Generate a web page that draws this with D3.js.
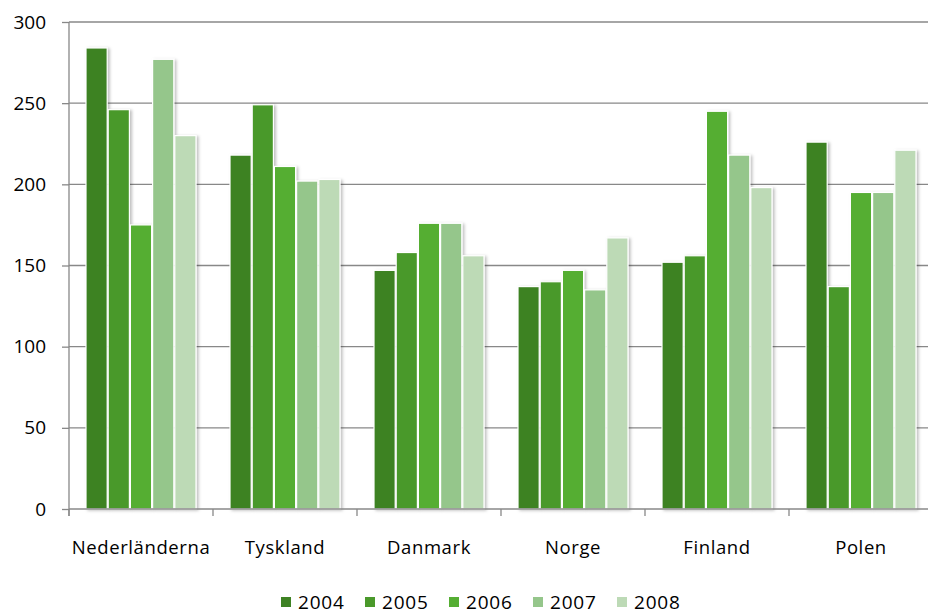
<!DOCTYPE html>
<html><head><meta charset="utf-8">
<script src="https://cdn.jsdelivr.net/npm/d3@7"></script>
<style>
html,body{margin:0;padding:0;background:#fff;}
svg{display:block;font-family:"Open Sans", Lato, sans-serif;}
</style></head>
<body>
<svg id="chart" width="928" height="614"></svg>
<script>
const categories = ["Nederländerna","Tyskland","Danmark","Norge","Finland","Polen"];
const years = ["2004","2005","2006","2007","2008"];
const v2004 = [284, 218, 147, 137, 152, 226];
const v2005 = [246, 249, 158, 140, 156, 137];
const v2006 = [175, 211, 176, 147, 245, 195];
const v2007 = [277, 202, 176, 135, 218, 195];
const v2008 = [230, 203, 156, 167, 198, 221];
const yTicks = [0, 50, 100, 150, 200, 250, 300];
const colors = ["#3e8224", "#4a992b", "#55ae33", "#95c68b", "#bddab6"];

(function(){
const seriesValues = [v2004, v2005, v2006, v2007, v2008];
const data = categories.map((c, i) => ({cat: c, vals: years.map((y, j) => ({year: y, v: seriesValues[j][i], j}))}));

const svg = d3.select("#chart");
const defs = svg.append("defs");
const f = defs.append("filter").attr("id","sh").attr("x","-20%").attr("y","-20%").attr("width","150%").attr("height","150%");
f.append("feDropShadow").attr("dx",2).attr("dy",1).attr("stdDeviation",1.5).attr("flood-color","#000").attr("flood-opacity",0.25);

const mLeft = 69, mRight = 933, mTop = 22, mBottom = 509;
const x0 = d3.scaleBand().domain(categories).range([mLeft, mRight]).padding(0);
const groupPad = 16.5;
const x1 = d3.scaleBand().domain(years).range([groupPad, x0.bandwidth() - groupPad]).padding(0);
const y = d3.scaleLinear().domain([0, 300]).range([mBottom, mTop]);

// gridlines
svg.append("g").selectAll("line").data(yTicks.filter(t => t > 0)).join("line")
  .attr("x1", mLeft).attr("x2", 928)
  .attr("y1", d => y(d)).attr("y2", d => y(d))
  .attr("stroke", "#888").attr("stroke-width", 1.3);

// y axis
const yAxis = svg.append("g").attr("transform", `translate(${mLeft},0)`)
  .call(d3.axisLeft(y).tickValues(yTicks).tickSize(7).tickPadding(16));
yAxis.select(".domain").remove();
yAxis.selectAll(".tick line").attr("stroke", "#888").attr("stroke-width", 1.3);
yAxis.selectAll(".tick text").attr("fill", "#000").style("font-size", "19px").style("font-family", "'Open Sans', Lato, sans-serif");

// bars
const groups = svg.append("g").selectAll("g").data(data).join("g")
  .attr("transform", d => `translate(${x0(d.cat)},0)`);
groups.selectAll("rect").data(d => d.vals).join("rect")
  .attr("x", d => x1(d.year) + 0.5)
  .attr("width", x1.bandwidth() - 1)
  .attr("y", d => y(d.v))
  .attr("height", d => y(0) - y(d.v))
  .attr("fill", d => colors[d.j])
  .attr("stroke", "#fff").attr("stroke-width", 1.2)
  .attr("filter", "url(#sh)");

// x axis line and ticks
svg.append("line").attr("x1", mLeft).attr("x2", 928).attr("y1", y(0)).attr("y2", y(0))
  .attr("stroke", "#888").attr("stroke-width", 1.3);
svg.append("line").attr("x1", mLeft).attr("x2", mLeft).attr("y1", mTop).attr("y2", y(0) + 7)
  .attr("stroke", "#888").attr("stroke-width", 1.3);
svg.append("g").selectAll("line").data(categories).join("line")
  .attr("x1", d => x0(d)).attr("x2", d => x0(d))
  .attr("y1", y(0)).attr("y2", y(0) + 7)
  .attr("stroke", "#888").attr("stroke-width", 1.3);

// x labels
svg.append("g").selectAll("text").data(categories).join("text")
  .attr("x", d => x0(d) + x0.bandwidth() / 2)
  .attr("y", 554)
  .attr("text-anchor", "middle")
  .style("font-size", "18.5px")
  .style("letter-spacing", "0.6px")
  .text(d => d);

// legend
const legX = d3.scalePoint().domain(years).range([281, 617]);
const leg = svg.append("g").selectAll("g").data(years).join("g")
  .attr("transform", d => `translate(${legX(d)},0)`);
leg.append("rect").attr("x", 0).attr("y", 597).attr("width", 10).attr("height", 10)
  .attr("fill", (d, i) => colors[i]);
leg.append("text").attr("x", 17).attr("y", 609)
  .style("font-size", "19px")
  .style("letter-spacing", "0.8px")
  .text(d => d);
})();
</script>
</body></html>
